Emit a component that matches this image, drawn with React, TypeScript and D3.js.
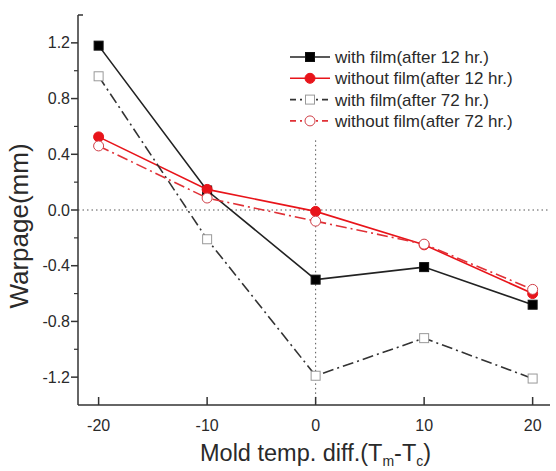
import React from 'react';
import * as d3 from 'd3';

const temps = [-20, -10, 0, 10, 20];
const withFilm12 = [1.18, 0.14, -0.5, -0.41, -0.68];
const withoutFilm12 = [0.525, 0.148, -0.01, -0.25, -0.6];
const withFilm72 = [0.96, -0.21, -1.19, -0.92, -1.21];
const withoutFilm72 = [0.46, 0.086, -0.08, -0.245, -0.57];
const yTicks = [-1.2, -0.8, -0.4, 0.0, 0.4, 0.8, 1.2];
const yMinor = [-1.0, -0.6, -0.2, 0.2, 0.6, 1.0];

type Series = {
  name: string;
  values: number[];
  color: string;
  dash: string | null;
  marker: 'square' | 'circle';
  filled: boolean;
  markerStroke: string;
};

const series: Series[] = [
  { name: 'with film(after 12 hr.)', values: withFilm12, color: '#222', dash: null, marker: 'square', filled: true, markerStroke: '#111' },
  { name: 'without film(after 12 hr.)', values: withoutFilm12, color: '#e8141a', dash: null, marker: 'circle', filled: true, markerStroke: '#e8141a' },
  { name: 'with film(after 72 hr.)', values: withFilm72, color: '#333', dash: '11,4,2,4', marker: 'square', filled: false, markerStroke: '#999' },
  { name: 'without film(after 72 hr.)', values: withoutFilm72, color: '#e03036', dash: '11,4,2,4', marker: 'circle', filled: false, markerStroke: '#d04048' },
];

const left = 78;
const right = 550;
const top = 15;
const bottom = 405;

const x = d3.scaleLinear().domain([-21.9, 21.6]).range([left, right]);
const y = d3.scaleLinear().domain([-1.4, 1.4]).range([bottom, top]);

const font = 'Arial, "Liberation Sans", sans-serif';
const axisColor = '#333';
const textColor = '#2a2a2a';
// plain hyphen for negatives, as on the printed axis
const fmtY = (v: number) => d3.format('.1f')(v).replace('\u2212', '-');

const Marker: React.FC<{ s: Series; cx: number; cy: number }> = ({ s, cx, cy }) => {
  const fill = s.filled ? (s.marker === 'square' ? '#000' : s.color) : '#fff';
  if (s.marker === 'square') {
    return <rect x={cx - 4.5} y={cy - 4.5} width={9} height={9} fill={fill} stroke={s.markerStroke} strokeWidth={1} />;
  }
  return <circle cx={cx} cy={cy} r={5} fill={fill} stroke={s.markerStroke} strokeWidth={1} />;
};

export default function App() {
  const line = d3
    .line<number>()
    .x((_, i) => x(temps[i]))
    .y((d) => y(d));

  return (
    <svg width={556} height={471} style={{ position: 'absolute', left: 0, top: 0, background: '#fff' }}>
      {/* zero reference lines */}
      <line x1={left} x2={right} y1={y(0)} y2={y(0)} stroke="#555" strokeWidth={1} strokeDasharray="1.5,3" />
      <line x1={x(0)} x2={x(0)} y1={y(0.5)} y2={bottom} stroke="#555" strokeWidth={1} strokeDasharray="1.5,3" />

      {/* y axis */}
      <line x1={left} x2={left} y1={top} y2={bottom} stroke={axisColor} strokeWidth={1.5} />
      <line x1={left} x2={left + 5} y1={top} y2={top} stroke={axisColor} strokeWidth={1.5} />
      {yTicks.map((t) => (
        <g key={t}>
          <line x1={left - 7} x2={left} y1={y(t)} y2={y(t)} stroke={axisColor} strokeWidth={1.5} />
          <text x={left - 8} y={y(t)} dy="0.35em" textAnchor="end" fontSize={16} fontFamily={font} fill={textColor}>
            {fmtY(t)}
          </text>
        </g>
      ))}
      {yMinor.map((t) => (
        <line key={t} x1={left - 4} x2={left} y1={y(t)} y2={y(t)} stroke={axisColor} strokeWidth={1.2} />
      ))}

      {/* x axis */}
      <line x1={left} x2={right} y1={bottom} y2={bottom} stroke={axisColor} strokeWidth={1.5} />
      {temps.map((t) => (
        <g key={t}>
          <line x1={x(t)} x2={x(t)} y1={bottom - 8} y2={bottom} stroke={axisColor} strokeWidth={1.5} />
          <text x={x(t)} y={bottom + 26} textAnchor="middle" fontSize={16} fontFamily={font} fill={textColor}>
            {t}
          </text>
        </g>
      ))}

      {/* series lines and markers */}
      {series.map((s) => (
        <g key={s.name}>
          <path d={line(s.values) ?? ''} fill="none" stroke={s.color} strokeWidth={1.6} strokeDasharray={s.dash ?? undefined} />
          {s.values.map((v, i) => (
            <Marker key={i} s={s} cx={x(temps[i])} cy={y(v)} />
          ))}
        </g>
      ))}

      {/* legend */}
      {series.map((s, i) => {
        const ly = 57 + i * 21.3;
        return (
          <g key={s.name}>
            <line x1={290} x2={330} y1={ly} y2={ly} stroke={s.color} strokeWidth={1.6} strokeDasharray={s.dash ? '6,4,2,4' : undefined} />
            <Marker s={s} cx={310} cy={ly} />
            <text x={335} y={ly} dy="0.35em" fontSize={17} fontFamily={font} fill={textColor}>
              {s.name}
            </text>
          </g>
        );
      })}

      {/* axis titles */}
      <text
        transform="translate(28,226) rotate(-90)"
        textAnchor="middle"
        fontSize={26}
        fontFamily={font}
        fill={textColor}
      >
        Warpage(mm)
      </text>
      <text x={200} y={461} fontSize={23.5} fontFamily={font} fill={textColor}>
        Mold temp. diff.(T<tspan fontSize={14} dy={5}>m</tspan>
        <tspan dy={-5}>-T</tspan>
        <tspan fontSize={14} dy={5}>c</tspan>
        <tspan dy={-5}>)</tspan>
      </text>
    </svg>
  );
}
